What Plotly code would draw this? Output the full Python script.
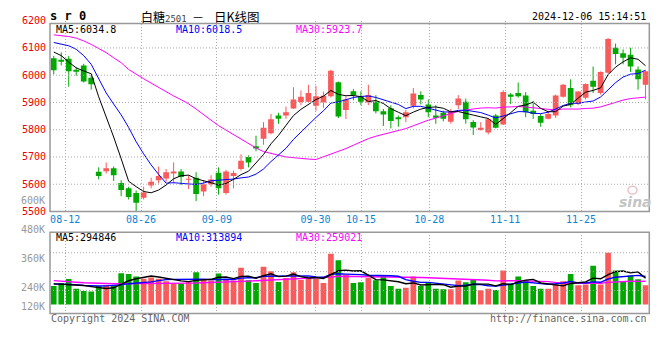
import plotly.graph_objects as go

# ---------------- data ----------------
dates = ["08-08","08-09","08-12","08-13","08-14","08-15","08-16","08-19","08-20","08-21",
         "08-22","08-23","08-26","08-27","08-28","08-29","08-30","09-02","09-03","09-04",
         "09-05","09-06","09-09","09-10","09-11","09-12","09-13","09-18","09-19","09-20",
         "09-23","09-24","09-25","09-26","09-27","09-30","10-08","10-09","10-10","10-11",
         "10-14","10-15","10-16","10-17","10-18","10-21","10-22","10-23","10-24","10-25",
         "10-28","10-29","10-30","10-31","11-01","11-04","11-05","11-06","11-07","11-08",
         "11-11","11-12","11-13","11-14","11-15","11-18","11-19","11-20","11-21","11-22",
         "11-25","11-26","11-27","11-28","11-29","12-02","12-03","12-04","12-05","12-06"]

opens = [6062,6055,6060,6017,6036,5991,5646,5648,5659,5605,
         5585,5568,5550,5595,5615,5621,5639,5647,5617,5624,
         5573,5600,5642,5568,5630,5656,5700,5739,5767,5787,
         5852,5852,5878,5902,5903,5888,5900,5923,5974,5872,
         5941,5923,5900,5903,5868,5879,5846,5846,5888,5927,
         5893,5852,5862,5829,5890,5903,5828,5799,5790,5852,
         5819,5929,5935,5926,5870,5850,5840,5852,5921,5953,
         5894,5917,5980,5935,6009,6101,6081,6075,6021,5965]
highs = [6071,6084,6071,6030,6042,6000,5662,5680,5665,5615,
         5591,5577,5591,5624,5665,5656,5680,5656,5633,5644,
         5615,5633,5662,5653,5650,5710,5706,5778,5828,5858,
         5862,5885,5956,5944,5965,5961,5940,6020,5977,5923,
         5949,5941,5965,5927,5876,5890,5852,5873,5953,5941,
         5911,5890,5870,5876,5927,5914,5835,5828,5843,5858,
         5945,5935,5973,5938,5906,5858,5870,5929,5968,5985,
         5941,5970,6032,6014,6137,6116,6095,6101,6032,6017]
lows = [6003,6036,5958,5998,5973,5947,5618,5639,5612,5556,
        5544,5502,5544,5585,5603,5609,5603,5597,5582,5538,
        5556,5591,5562,5562,5585,5650,5662,5721,5745,5783,
        5822,5840,5876,5890,5899,5870,5880,5918,5843,5839,
        5908,5890,5890,5860,5814,5805,5811,5828,5878,5893,
        5846,5822,5831,5822,5876,5822,5781,5797,5783,5805,
        5817,5894,5918,5846,5840,5811,5838,5843,5918,5882,
        5890,5911,5935,5929,6006,6040,6040,6012,5947,5911]
closes = [6018,6053,6015,6015,5977,5967,5630,5659,5633,5579,
          5553,5532,5570,5609,5630,5644,5647,5627,5619,5564,
          5600,5617,5585,5647,5641,5686,5680,5731,5807,5838,
          5840,5864,5911,5921,5935,5923,5925,6016,5849,5911,
          5927,5903,5927,5868,5856,5832,5838,5864,5933,5911,
          5864,5846,5840,5868,5915,5838,5808,5807,5838,5807,
          5938,5923,5923,5864,5858,5826,5858,5926,5965,5890,
          5940,5968,5958,6012,6133,6078,6064,6032,5985,6015]
volumes = [207,243,287,178,153,145,207,218,218,352,
           342,316,291,305,291,262,236,236,262,363,
           287,269,349,280,269,414,273,243,425,374,
           254,298,363,276,298,287,243,570,498,334,
           243,251,298,273,323,207,178,189,316,207,
           243,178,171,171,269,251,287,160,178,164,
           382,233,316,276,207,178,178,225,262,342,
           218,225,436,225,581,382,262,327,283,218]
volumes = [v * 1000 for v in volumes]

# moving-average values before enough in-view days exist
ma5_head = [6085, 6072, 6048, 6027]
ma10_head = [6120, 6115, 6108, 6095, 6072, 6040, 5990, 5935, 5894]
ma30_head = [6148, 6146, 6142, 6136, 6126, 6113, 6099, 6083, 6064, 6046,
             6021, 6003, 5987, 5971, 5955, 5938, 5924, 5910, 5895, 5876,
             5857, 5835, 5815, 5798, 5782, 5767, 5750, 5733, 5720]
vma5_head = [232000, 228000, 225000, 220000]
vma10_head = [232000, 230000, 228000, 222000, 215000, 210000, 208000, 210000, 214000]
vma30_head = [269000, 265000, 258000, 250000, 244000, 240000, 236000, 234000, 233000, 233000,
              233000, 234000, 235000, 236000, 237000, 238000, 239000, 240000, 241000, 242000,
              244000, 246000, 249000, 252000, 255000, 259000, 263000, 267000, 271000]

tick_dates = ["08-12", "08-26", "09-09", "09-30", "10-15", "10-28", "11-11", "11-25"]
price_ticks = [5500, 5600, 5700, 5800, 5900, 6000, 6100, 6200]
vol_tick_labels = ["600K", "480K", "360K", "240K", "120K"]
ma_price_labels = ["MA5:6034.8", "MA10:6018.5", "MA30:5923.7"]
ma_vol_labels = ["MA5:294846", "MA10:313894", "MA30:259021"]

# ---------------- helpers ----------------
W, H = 660, 360
def px(x): return x / W
def py(y): return 1 - y / H

def moving(series, n, head):
    out = list(head)
    for i in range(len(head), len(series)):
        out.append(sum(series[i - n + 1:i + 1]) / n)
    return out

N = len(dates)
xs = list(range(N))
RED, GREEN = "#fa5a5a", "#00a800"
MONO = "DejaVu Sans Mono"
CJK = "Noto Sans CJK SC"
up = [c >= o for o, c in zip(opens, closes)]
cols = [RED if u else GREEN for u in up]

ma5 = moving(closes, 5, ma5_head)
ma10 = moving(closes, 10, ma10_head)
ma30 = moving(closes, 30, ma30_head)
vma5 = moving(volumes, 5, vma5_head)
vma10 = moving(volumes, 10, vma10_head)
vma30 = moving(volumes, 30, vma30_head)

fig = go.Figure()

# wicks
for flag, col in [(True, RED), (False, GREEN)]:
    wx, wy = [], []
    for i in xs:
        if up[i] == flag:
            wx += [i, i, None]
            wy += [lows[i], highs[i], None]
    fig.add_trace(go.Scatter(x=wx, y=wy, mode="lines", line=dict(color=col, width=1),
                             hoverinfo="skip", xaxis="x", yaxis="y"))
# bodies
fig.add_trace(go.Bar(x=xs, y=[max(abs(c - o), 2.5) for o, c in zip(opens, closes)],
                     base=[min(o, c) for o, c in zip(opens, closes)],
                     width=0.76, marker=dict(color=cols, line=dict(width=0)),
                     xaxis="x", yaxis="y"))
# price MAs
for s, col in [(ma30, "#ff00ff"), (ma10, "#0000ff"), (ma5, "#000000")]:
    fig.add_trace(go.Scatter(x=xs, y=s, mode="lines", line=dict(color=col, width=1),
                             xaxis="x", yaxis="y"))
# volume
fig.add_trace(go.Bar(x=xs, y=volumes, width=0.76, marker=dict(color=cols, line=dict(width=0)),
                     xaxis="x2", yaxis="y2"))
for s, col in [(vma30, "#ff00ff"), (vma10, "#0000ff"), (vma5, "#000000")]:
    fig.add_trace(go.Scatter(x=xs, y=s, mode="lines", line=dict(color=col, width=1.4),
                             xaxis="x2", yaxis="y2"))

tickvals = [dates.index(d) * N / (N - 1) - 0.5 for d in tick_dates]
GRID = "#aaaaaa"
xdom = [px(50), px(649.3)]
fig.update_layout(
    width=W, height=H, autosize=False,
    margin=dict(l=0, r=0, t=0, b=0),
    paper_bgcolor="white", plot_bgcolor="rgba(0,0,0,0)",
    showlegend=False, barmode="overlay",
    xaxis=dict(domain=xdom, range=[-0.5, N - 0.5], tickvals=tickvals, ticktext=tick_dates,
               showgrid=True, gridcolor=GRID, griddash="1px,2px", gridwidth=1,
               tickfont=dict(family=MONO, size=10, color="#0a84d8"), ticks="",
               ticklabelstandoff=1, zeroline=False, showline=False, anchor="y"),
    yaxis=dict(domain=[py(213), py(16.2)], range=[5500, 6200], tickvals=price_ticks,
               ticktext=[str(t) for t in price_ticks], showgrid=False, zeroline=False,
               tickfont=dict(family=MONO, size=10, color="#ee0000"), ticks="",
               ticklabelstandoff=3, showline=False, anchor="x"),
    xaxis2=dict(domain=xdom, range=[-0.5, N - 0.5], tickvals=tickvals, showticklabels=False,
                showgrid=True, gridcolor=GRID, griddash="1px,2px", gridwidth=1, ticks="",
                zeroline=False, showline=False, anchor="y2"),
    yaxis2=dict(domain=[py(318.3), py(234.3)], range=[-102000, 814000], showgrid=False,
                showticklabels=False, zeroline=False, showline=False, anchor="x2"),
)

shapes = []
for t in price_ticks[1:-1]:
    shapes.append(dict(type="line", xref="paper", yref="y", x0=px(50), x1=px(649.3), y0=t, y1=t,
                       line=dict(color=GRID, width=1, dash="1px,2px")))
for yy in [255.5, 275.0, 294.5]:
    shapes.append(dict(type="line", xref="paper", yref="paper", x0=px(50), x1=px(649.3),
                       y0=py(yy), y1=py(yy), line=dict(color=GRID, width=1, dash="1px,2px")))
for top, bot in [(19, 213), (234.3, 318.3)]:
    shapes.append(dict(type="rect", xref="paper", yref="paper", x0=px(50), x1=px(649.3),
                       y0=py(bot), y1=py(top), line=dict(color="#999999", width=1.5),
                       fillcolor="rgba(0,0,0,0)"))
# faint watermark logo (eye) above "sina"
shapes.append(dict(type="circle", xref="paper", yref="paper", x0=px(628), x1=px(637),
                   y0=py(195), y1=py(187), line=dict(color="#e6c4c4", width=1.5),
                   fillcolor="rgba(0,0,0,0)"))
fig.update_layout(shapes=shapes)

ann = []
def text(x, y, s, color="#000", size=10, family=MONO, xanchor="left", h=None):
    a = dict(x=px(x), y=py(y), xref="paper", yref="paper", text=s, showarrow=False,
             xanchor=xanchor, yanchor="middle", font=dict(family=family, size=size, color=color))
    if h:
        a["height"] = h
    ann.append(a)

text(48, 11.5, "<b>s r 0</b>", size=12, h=12)
text(139, 12, "白糖<span style='font-family:DejaVu Sans Mono;font-size:9px;color:#444'>2501</span>",
     size=12, family=CJK, h=13)
text(197.5, 12, "－", size=12, family=CJK, xanchor="center", h=13)
text(212, 12, "日K线图", size=12.5, family=CJK, h=13)
text(648, 12, "2024-12-06 15:14:51", xanchor="right", h=11)
for lab, x, c in zip(ma_price_labels, [54, 174, 294], ["#000000", "#0000ff", "#ff00ff"]):
    text(x, 24.5, lab, color=c, h=10)
for lab, x, c in zip(ma_vol_labels, [54, 174, 294], ["#000000", "#0000ff", "#ff00ff"]):
    text(x, 239.5, lab, color=c, h=10)
for lab, y in zip(vol_tick_labels, [201, 230.7, 260.7, 290.7, 310]):
    text(46.5, y, lab, color="#999999", xanchor="right", h=10)
text(49, 323.5, "Copyright 2024 SINA.COM", color="#666666", h=11)
text(649, 323.5, "http://finance.sina.com.cn", color="#666666", xanchor="right", h=11)
text(635, 203, "<b><i>sina</i></b>", color="#c4c4c4", size=14, family="DejaVu Sans", xanchor="center", h=14)
fig.update_layout(annotations=ann)

fig.write_html("out.html", config={"displayModeBar": False},
               post_script="document.body.style.margin='0px';document.body.style.overflow='hidden';")
